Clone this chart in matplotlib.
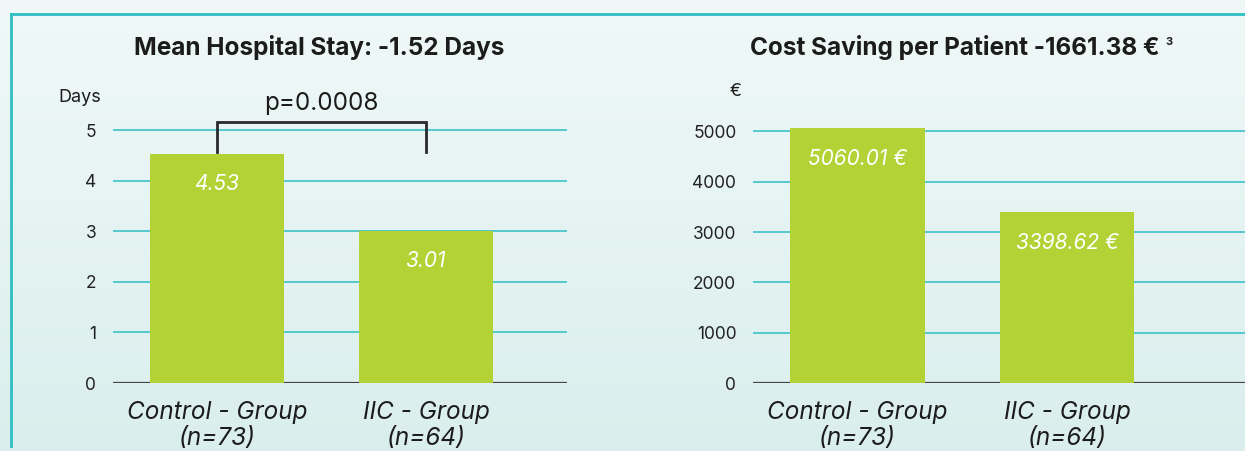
import numpy as np
import matplotlib.pyplot as plt
from matplotlib.lines import Line2D

# data
groups = ["Control - Group\n(n=73)", "IIC - Group\n(n=64)"]
stay_days = [4.53, 3.01]
stay_labels = ["4.53", "3.01"]
cost_eur = [5060.01, 3398.62]
cost_labels = ["5060.01 €", "3398.62 €"]
p_value = "p=0.0008"

GREEN = "#b2d235"
TEAL = "#2fbfc2"
DARK = "#1c1c1c"

plt.rcParams['font.family'] = ['Inter', 'DejaVu Sans']

W, H = 1245, 451
fig = plt.figure(figsize=(W / 100, H / 100), dpi=100)

# background gradient
bg = fig.add_axes([0, 0, 1, 1], zorder=-10)
grad = np.linspace(0, 1, 256).reshape(-1, 1)
top = np.array([0.94, 0.975, 0.97])
bot = np.array([0.855, 0.935, 0.93])
img = top + (bot - top) * grad[:, :, None]
bg.imshow(img, aspect='auto', extent=[0, 1, 0, 1], origin='upper')
bg.set_axis_off()

# teal frame (top + left)
fig.add_artist(Line2D([10.5 / W, 1], [1 - 14 / H, 1 - 14 / H], color=TEAL, lw=2))
fig.add_artist(Line2D([10.5 / W, 10.5 / W], [1 - 14 / H, 1 - 446 / H], color=TEAL, lw=2))


def make_axes(x0, x1, y_top, y_bot):
    return fig.add_axes([x0 / W, 1 - y_bot / H, (x1 - x0) / W, (y_bot - y_top) / H])


def style(ax, ymax, ticks, xlim):
    ax.set_facecolor('none')
    ax.set_xlim(*xlim)
    ax.set_ylim(0, ymax)
    ax.set_yticks(ticks)
    for s in ax.spines.values():
        s.set_visible(False)
    ax.grid(axis='y', color=TEAL, lw=1.3, alpha=0.85)
    ax.set_axisbelow(True)
    ax.axhline(0, color="#444444", lw=1.6, zorder=1)
    ax.tick_params(axis='y', length=0, pad=12, labelsize=12.5, labelcolor="#222222")
    ax.tick_params(axis='x', length=0, pad=13)
    ax.set_xticks(range(len(groups)))
    ax.set_xticklabels(groups, fontsize=17.5, style='italic', color=DARK, linespacing=1.15)


# left panel: hospital stay
ax1 = make_axes(113, 567, 70, 383)
x = np.arange(len(groups))
ax1.bar(x, stay_days, width=0.64, color=GREEN, zorder=2)
style(ax1, 6.19, range(0, 6), (-0.498, 1.675))
for xi, v, lab in zip(x, stay_days, stay_labels):
    ax1.annotate(lab, (xi, v), xytext=(0, -22), textcoords='offset points',
                 ha='center', va='center', color='white', fontsize=15, style='italic')
# significance bracket
ax1.plot([0, 0, 1, 1], [4.57, 5.16, 5.16, 4.57], color="#2a2a2a", lw=2, zorder=3,
         solid_joinstyle='miter')
ax1.text(0.5, 5.53, p_value, ha='center', va='center', fontsize=17.5, color=DARK)
fig.text(80 / W, 1 - 98 / H, "Days", ha='center', va='center', fontsize=13, color=DARK)
fig.text(319 / W, 1 - 48 / H, "Mean Hospital Stay: -1.52 Days", ha='center', va='center',
         fontsize=17.5, fontweight='bold', color=DARK)

# right panel: cost
ax2 = make_axes(753, 1245, 70, 383)
ax2.bar(x, cost_eur, width=0.64, color=GREEN, zorder=2)
style(ax2, 6220, range(0, 6000, 1000), (-0.499, 1.85))
for xi, v, lab in zip(x, cost_eur, cost_labels):
    ax2.annotate(lab, (xi, v), xytext=(0, -22), textcoords='offset points',
                 ha='center', va='center', color='white', fontsize=15, style='italic')
fig.text(736 / W, 1 - 92 / H, "€", ha='center', va='center', fontsize=13, color=DARK)
t2 = fig.text(750 / W, 1 - 48 / H, "Cost Saving per Patient -1661.38 €", ha='left', va='center',
              fontsize=17.5, fontweight='bold', color=DARK)
# superscript footnote marker
ax2.annotate("3", xy=(1, 1), xycoords=t2, xytext=(4, -1), textcoords='offset points',
             ha='left', va='top', fontsize=8, fontweight='bold', color=DARK)

fig.savefig("out.png", dpi=100)
